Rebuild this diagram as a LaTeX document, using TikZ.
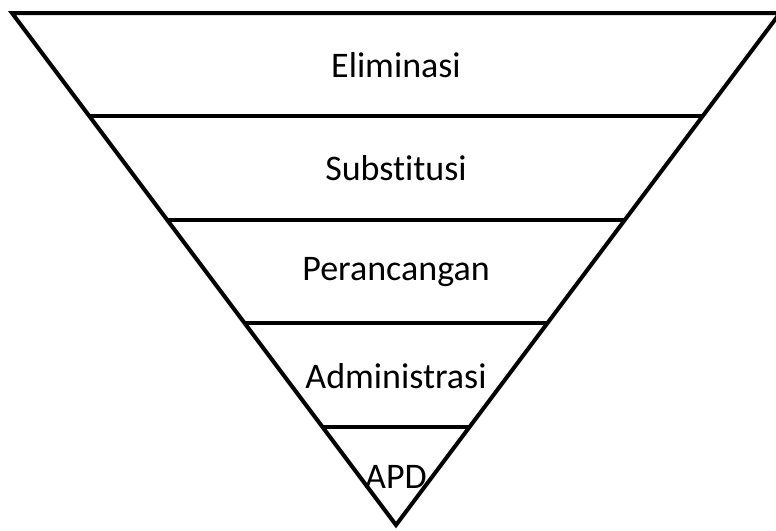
\documentclass[tikz,border=0pt]{standalone}
\usepackage{fontspec}
\setmainfont{Carlito}[Ligatures={NoCommon}]
\usetikzlibrary{calc}
\begin{document}
\begin{tikzpicture}[x=1pt,y=-1pt,
  edge/.style={line width=4pt,line join=miter,black},
  level/.style={font=\fontsize{36}{40}\selectfont,inner sep=0pt,anchor=center}]
\useasboundingbox (0,0) rectangle (776,530);
\clip (0,0) rectangle (776,530);
\fill[white] (0,0) rectangle (776,530);
% corners of the inverted triangle
\coordinate (tl) at (12,13);
\coordinate (tr) at (780,13);
\coordinate (ap) at (396,525);
\draw[edge] (tl) -- (tr) -- (ap) -- cycle;
% dividing lines between the levels
\foreach \i/\y in {1/116,2/219.7,3/323.3,4/427}{
  \pgfmathsetmacro{\t}{(\y-13)/512}
  \coordinate (l\i) at ($(tl)!\t!(ap)$);
  \coordinate (r\i) at ($(tr)!\t!(ap)$);
  \draw[edge,line cap=butt] (l\i) -- (r\i);
}
% level labels
\node[level] (elim) at (396,65) {Eliminasi};
\node[level] (subs) at (396,168) {Substitusi};
\node[level] (peran) at (396,272) {Perancangan};
\node[level] (admin) at (396,376) {Administrasi};
\node[level] (apd) at (396,477) {APD};
\end{tikzpicture}
\end{document}
